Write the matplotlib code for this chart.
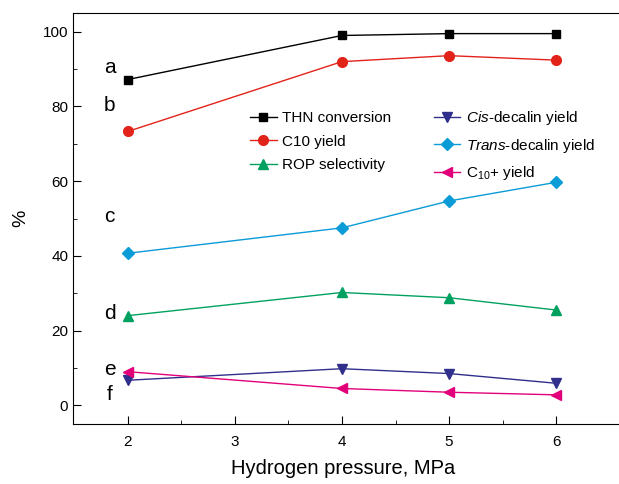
import matplotlib
matplotlib.use("Agg")
import matplotlib.pyplot as plt
from matplotlib.ticker import MultipleLocator, FixedLocator

plt.rcParams['font.family'] = ['Liberation Sans', 'DejaVu Sans']
plt.rcParams['mathtext.fontset'] = 'custom'
plt.rcParams['mathtext.rm'] = 'Liberation Sans'
plt.rcParams['mathtext.it'] = 'Liberation Sans:italic'

pressure = [2, 4, 5, 6]
thn_conv = [87.2, 99.0, 99.5, 99.5]
c10_yield = [73.3, 92.0, 93.6, 92.4]
rop_sel = [24.0, 30.2, 28.8, 25.5]
cis_yield = [6.7, 9.8, 8.5, 5.9]
trans_yield = [40.7, 47.5, 54.7, 59.7]
c10p_yield = [9.0, 4.5, 3.5, 2.8]

curve_tags = ['a', 'b', 'c', 'd', 'e', 'f']
tag_y = [90.5, 80.3, 50.5, 24.5, 9.5, 3.0]

fig = plt.figure(figsize=(6.19, 4.84), dpi=100)
# right side of the frame is cut off in the original, so let the axes run past the edge
ax = fig.add_axes([0.118, 0.124, 0.90, 0.849])

lw = 1.0
ms = 7
ax.plot(pressure, thn_conv, '-s', color='black', lw=lw, ms=ms-1, label='THN conversion')
ax.plot(pressure, c10_yield, '-o', color='#e2231a', lw=lw, ms=ms, label='C10 yield')
ax.plot(pressure, rop_sel, '-^', color='#00a160', lw=lw, ms=ms, label='ROP selectivity')
ax.plot(pressure, cis_yield, '-v', color='#302f8c', lw=lw, ms=ms, label='$\\it{Cis}$-decalin yield')
ax.plot(pressure, trans_yield, '-D', color='#0b9bd7', lw=lw, ms=ms-1, label='$\\it{Trans}$-decalin yield')
ax.plot(pressure, c10p_yield, '-<', color='#e2007a', lw=lw, ms=ms, label='C$_{10}$+ yield')

for t, y in zip(curve_tags, tag_y):
    ax.text(1.83, y, t, fontsize=15, ha='center', va='center')

ax.set_xlim(1.49, 6.69)
ax.set_ylim(-5, 105)
ax.set_xticks([2, 3, 4, 5, 6])
ax.set_yticks([0, 20, 40, 60, 80, 100])
ax.xaxis.set_minor_locator(FixedLocator([2.5, 3.5, 4.5, 5.5]))
ax.yaxis.set_minor_locator(MultipleLocator(10))
ax.tick_params(which='both', direction='in', labelsize=11, top=False, right=False)
ax.tick_params(which='major', length=6)
ax.tick_params(which='minor', length=3)
ax.tick_params(axis='x', pad=8)

ax.set_xlabel('Hydrogen pressure, MPa', fontsize=14.5)
ax.xaxis.set_label_coords(0.485, -0.085)
ax.set_ylabel('%', fontsize=14, labelpad=10)

ax.legend(ncol=2, loc='upper left', bbox_to_anchor=(0.293, 0.80), frameon=False,
          fontsize=11, handlelength=1.75, columnspacing=2.75, labelspacing=0.63,
          handletextpad=0.37)

fig.savefig('out.png', dpi=100)
